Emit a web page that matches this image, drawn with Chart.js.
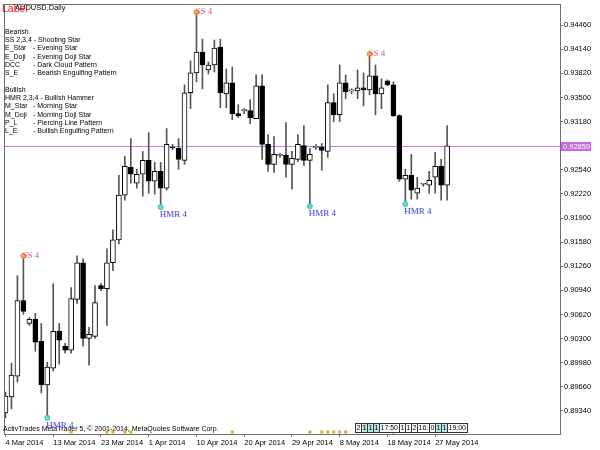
<!DOCTYPE html>
<html>
<head>
<meta charset="utf-8">
<style>
  html, body { margin: 0; padding: 0; background: #fff; }
  #chart { display: block; }
</style>
</head>
<body>
<canvas id="chart" width="600" height="450"></canvas>
<script src="https://cdn.jsdelivr.net/npm/chart.js@4.4.1/dist/chart.umd.min.js"></script>
<script>
"use strict";

// AUDUSD daily, 4 Mar 2014 - 29 May 2014 (broker has Sunday bars)
const dates = [
  "4 Mar 2014", "5 Mar 2014", "6 Mar 2014", "7 Mar 2014", "9 Mar 2014", "10 Mar 2014", "11 Mar 2014", "12 Mar 2014",
  "13 Mar 2014", "14 Mar 2014", "16 Mar 2014", "17 Mar 2014", "18 Mar 2014", "19 Mar 2014", "20 Mar 2014", "21 Mar 2014",
  "23 Mar 2014", "24 Mar 2014", "25 Mar 2014", "26 Mar 2014", "27 Mar 2014", "28 Mar 2014", "30 Mar 2014", "31 Mar 2014",
  "1 Apr 2014", "2 Apr 2014", "3 Apr 2014", "4 Apr 2014", "6 Apr 2014", "7 Apr 2014", "8 Apr 2014", "9 Apr 2014",
  "10 Apr 2014", "11 Apr 2014", "13 Apr 2014", "14 Apr 2014", "15 Apr 2014", "16 Apr 2014", "17 Apr 2014", "18 Apr 2014",
  "20 Apr 2014", "21 Apr 2014", "22 Apr 2014", "23 Apr 2014", "24 Apr 2014", "25 Apr 2014", "27 Apr 2014", "28 Apr 2014",
  "29 Apr 2014", "30 Apr 2014", "1 May 2014", "2 May 2014", "4 May 2014", "5 May 2014", "6 May 2014", "7 May 2014",
  "8 May 2014", "9 May 2014", "11 May 2014", "12 May 2014", "13 May 2014", "14 May 2014", "15 May 2014", "16 May 2014",
  "18 May 2014", "19 May 2014", "20 May 2014", "21 May 2014", "22 May 2014", "23 May 2014", "25 May 2014", "26 May 2014",
  "27 May 2014", "28 May 2014", "29 May 2014"
];

const opens = [
  0.89314, 0.89525, 0.89802, 0.90805, 0.90501, 0.90554, 0.90264, 0.89683, 0.89907, 0.90396,
  0.90198, 0.90145, 0.90818, 0.91306, 0.90303, 0.90330, 0.91003, 0.90963, 0.91306, 0.91610,
  0.92204, 0.92573, 0.92362, 0.92481, 0.92665, 0.92388, 0.92520, 0.92296, 0.92837, 0.92824,
  0.92665, 0.93563, 0.93827, 0.94104, 0.93866, 0.93932, 0.94170, 0.93549, 0.93695, 0.93286,
  0.93325, 0.93325, 0.93220, 0.93655, 0.92877, 0.92613, 0.92731, 0.92731, 0.92613, 0.92679,
  0.92863, 0.92665, 0.92837, 0.92837, 0.92784, 0.93431, 0.93272, 0.93695, 0.93589, 0.93589,
  0.93629, 0.93602, 0.93787, 0.93549, 0.93721, 0.93668, 0.93259, 0.92415, 0.92467, 0.92230,
  0.92349, 0.92335, 0.92441, 0.92586, 0.92335
];
const highs = [
  0.89591, 0.89973, 0.91135, 0.91399, 0.90580, 0.90633, 0.90501, 0.89987, 0.91029, 0.90501,
  0.90237, 0.90976, 0.91399, 0.91359, 0.90448, 0.91003, 0.91029, 0.91491, 0.91742, 0.92467,
  0.92718, 0.92956, 0.92547, 0.92784, 0.93035, 0.92639, 0.92639, 0.93088, 0.92877, 0.92956,
  0.93668, 0.93985, 0.94632, 0.94275, 0.93972, 0.94262, 0.94275, 0.93879, 0.93906, 0.93404,
  0.93352, 0.93470, 0.93800, 0.93800, 0.93008, 0.92982, 0.92758, 0.93167, 0.92784, 0.93008,
  0.93127, 0.92824, 0.92877, 0.92890, 0.93668, 0.93549, 0.93932, 0.93800, 0.93615, 0.93866,
  0.93827, 0.94077, 0.93932, 0.93747, 0.93734, 0.93708, 0.93272, 0.92547, 0.92745, 0.92441,
  0.92362, 0.92520, 0.92771, 0.92679, 0.93127
];
const lows = [
  0.89248, 0.89366, 0.89723, 0.90620, 0.90475, 0.90132, 0.89578, 0.89248, 0.89868, 0.89960,
  0.90105, 0.90105, 0.90765, 0.90198, 0.89947, 0.90303, 0.90937, 0.90475, 0.91201, 0.91557,
  0.92138, 0.92362, 0.92296, 0.92190, 0.92230, 0.92217, 0.92045, 0.92270, 0.92811, 0.92547,
  0.92613, 0.93352, 0.93708, 0.93615, 0.93813, 0.93840, 0.93365, 0.93365, 0.93206, 0.93233,
  0.93286, 0.93154, 0.93220, 0.92679, 0.92520, 0.92507, 0.92705, 0.92441, 0.92283, 0.92652,
  0.92599, 0.92058, 0.92811, 0.92533, 0.92705, 0.93180, 0.93180, 0.93484, 0.93549, 0.93484,
  0.93391, 0.93536, 0.93272, 0.93352, 0.93655, 0.93246, 0.92388, 0.92085, 0.92151, 0.92151,
  0.92322, 0.92230, 0.92230, 0.92138, 0.92138
];
const closes = [
  0.89538, 0.89815, 0.90805, 0.90660, 0.90554, 0.90251, 0.89683, 0.89921, 0.90396, 0.90277,
  0.90145, 0.90831, 0.91306, 0.90303, 0.90356, 0.90778, 0.90963, 0.91306, 0.91610, 0.92204,
  0.92586, 0.92481, 0.92481, 0.92665, 0.92388, 0.92520, 0.92296, 0.92877, 0.92830, 0.92679,
  0.93563, 0.93827, 0.94104, 0.93932, 0.93932, 0.94157, 0.93563, 0.93695, 0.93286, 0.93259,
  0.93325, 0.93233, 0.93655, 0.92877, 0.92613, 0.92745, 0.92731, 0.92613, 0.92692, 0.92877,
  0.92665, 0.92745, 0.92837, 0.92797, 0.93431, 0.93272, 0.93695, 0.93576, 0.93589, 0.93629,
  0.93602, 0.93787, 0.93549, 0.93629, 0.93668, 0.93259, 0.92415, 0.92467, 0.92270, 0.92296,
  0.92349, 0.92401, 0.92586, 0.92335, 0.92859
];

const priceTicks = [
  0.94460, 0.94140, 0.93820, 0.93500, 0.93180, 0.92540, 0.92220, 0.91900, 0.91580,
  0.91260, 0.90940, 0.90620, 0.90300, 0.89980, 0.89660, 0.89340
];
const dateTickIdx = [0, 8, 16, 24, 32, 40, 48, 56, 64, 72];
const lastPrice = 0.92859;

// pattern hits found by the indicator
const ssIdx = [3, 32, 61];
const hmrIdx = [7, 26, 51, 67];
// deal marks along the bottom edge
const dealIdx = [11, 17, 18, 20, 21, 38, 51, 53, 54, 55, 56, 57, 65];
const dealCells = ["2", "1", "1", "1", "17:50", "1", "1", "2", "16:", "0", "1", "1", "19:00"];
const dealCyan = [false, true, true, true, false, false, false, false, false, false, true, true, false];

const bearishNotes = [
  ["SS 2,3,4", "- Shooting Star"],
  ["E_Star", "- Evening Star"],
  ["E_Doji", "- Evening Doji Star"],
  ["DCC", "- Dark Cloud Pattern"],
  ["S_E", "- Bearish Engulfing Pattern"]
];
const bullishNotes = [
  ["HMR 2,3,4", "- Bullish Hammer"],
  ["M_Star", "- Morning Star"],
  ["M_Doji", "- Morning Doji Star"],
  ["P_L", "- Piercing Line Pattern"],
  ["L_E", "- Bullish Engulfing Pattern"]
];

const SANS = "Liberation Sans, Arial, sans-serif";
const SERIF = "Liberation Serif, Times New Roman, serif";

const bodies = dates.map((d, i) => ({ x: i, y: [opens[i], closes[i]] }));
const wicks = dates.map((d, i) => ({ x: i, y: [lows[i], highs[i]] }));
const bodyFill = closes.map((c, i) => (c >= opens[i] ? "#ffffff" : "#000000"));
const ssPoints = ssIdx.map((i) => ({ x: i, y: highs[i] }));
const hmrPoints = hmrIdx.map((i) => ({ x: i, y: lows[i] }));

const mtOverlay = {
  id: "mtOverlay",
  beforeDatasetsDraw(chart) {
    const { ctx, chartArea: a, scales } = chart;
    const py = Math.round(scales.y.getPixelForValue(lastPrice)) + 0.5;
    ctx.save();
    ctx.strokeStyle = "#c47fdc";
    ctx.lineWidth = 1;
    ctx.beginPath();
    ctx.moveTo(a.left, py);
    ctx.lineTo(a.right, py);
    ctx.stroke();
    ctx.restore();
  },
  afterDraw(chart) {
    const { ctx, chartArea: a, scales } = chart;
    const xs = scales.x, ys = scales.y;
    ctx.save();

    // frame
    ctx.strokeStyle = "#6e6e6e";
    ctx.lineWidth = 1;
    ctx.strokeRect(a.left - 0.5, a.top - 0.5, a.width + 1, a.height + 1);

    // last price box on the axis
    const py = Math.round(ys.getPixelForValue(lastPrice));
    ctx.fillStyle = "#c466dc";
    ctx.fillRect(a.right + 1, py - 4, 30, 9);
    ctx.fillStyle = "#ffffff";
    ctx.font = "7.5px " + SANS;
    ctx.textBaseline = "middle";
    ctx.textAlign = "left";
    ctx.fillText(lastPrice.toFixed(5), a.right + 3, py + 0.5);

    // header
    ctx.fillStyle = "#000000";
    ctx.font = "7.5px " + SANS;
    ctx.fillText("AUDUSD,Daily", 15, 8);
    ctx.fillStyle = "#e0141e";
    ctx.font = "10.5px " + SANS;
    ctx.fillText("Label", 2, 9);

    // pattern legend
    ctx.fillStyle = "#000000";
    ctx.font = "7px " + SANS;
    const rows = [["Bearish"]].concat(bearishNotes, [[""], ["Bullish"]], bullishNotes);
    rows.forEach((r, k) => {
      const y = 31.7 + 8.3 * k;
      if (r.length === 1) {
        ctx.fillText(r[0], 5, y);
      } else if (r[0].indexOf(",") >= 0) {
        ctx.fillText(r[0] + " " + r[1], 5, y);
      } else {
        ctx.fillText(r[0], 5, y);
        ctx.fillText(r[1], 33, y);
      }
    });

    // footer
    ctx.fillText("ActivTrades MetaTrader 5, \u00a9 2001-2014, MetaQuotes Software Corp.", 3, 429);

    // pattern labels
    ctx.font = "9px " + SERIF;
    ctx.textBaseline = "alphabetic";
    ctx.fillStyle = "#f0488c";
    ssIdx.forEach((i) => {
      ctx.fillText("SS 4", xs.getPixelForValue(i) - 1, ys.getPixelForValue(highs[i]) + 2);
    });
    ctx.fillStyle = "#3a3ae6";
    hmrIdx.forEach((i) => {
      ctx.fillText("HMR 4", xs.getPixelForValue(i) - 1, ys.getPixelForValue(lows[i]) + 10);
    });

    // deal marks
    ctx.fillStyle = "#f2a52e";
    dealIdx.forEach((i) => {
      ctx.beginPath();
      ctx.arc(xs.getPixelForValue(i), a.bottom - 2, 1.8, 0, Math.PI * 2);
      ctx.fill();
    });

    // trade history boxes
    ctx.font = "7px " + SANS;
    ctx.textBaseline = "middle";
    let bx = 355.5;
    const by = 423.5;
    dealCells.forEach((t, k) => {
      const w = Math.round(ctx.measureText(t).width + 2);
      ctx.fillStyle = dealCyan[k] ? "#b9e6e6" : "#ffffff";
      ctx.fillRect(bx, by, w, 9);
      ctx.strokeStyle = "#333333";
      ctx.strokeRect(bx, by, w, 9);
      ctx.fillStyle = "#000000";
      ctx.fillText(t, bx + 1, by + 5);
      bx += w;
    });

    ctx.restore();
  }
};

const config = {
  type: "bar",
  data: {
    datasets: [
      {
        type: "scatter",
        data: ssPoints,
        pointRadius: 2.5,
        backgroundColor: "#f7b73c",
        borderColor: "#e8961e",
        borderWidth: 1,
        order: 0
      },
      {
        type: "scatter",
        data: hmrPoints,
        pointRadius: 2.5,
        backgroundColor: "#6cd8d8",
        borderColor: "#3bb8c0",
        borderWidth: 1,
        order: 0
      },
      {
        data: bodies,
        backgroundColor: bodyFill,
        borderColor: "#000000",
        borderWidth: 1,
        borderSkipped: false,
        barThickness: 5,
        minBarLength: 1,
        grouped: false,
        clip: 0,
        order: 1
      },
      {
        data: wicks,
        backgroundColor: "#555555",
        borderWidth: 0,
        barThickness: 1,
        grouped: false,
        clip: 0,
        order: 2
      }
    ]
  },
  options: {
    responsive: false,
    animation: false,
    events: [],
    layout: { padding: { left: 2, top: 3, right: 0, bottom: 0 } },
    plugins: { legend: { display: false }, tooltip: { enabled: false } },
    scales: {
      x: {
        type: "linear",
        offset: false,
        min: -1 / 12,
        max: 93 - 1 / 12,
        border: { display: false },
        grid: { offset: false, drawOnChartArea: false, drawTicks: true, tickLength: 3, color: "#707070" },
        ticks: {
          autoSkip: false,
          maxRotation: 0,
          align: "start",
          padding: 1,
          color: "#000000",
          font: { family: SANS, size: 7.5 },
          callback: (v) => dates[v]
        },
        afterBuildTicks: (axis) => {
          axis.ticks = dateTickIdx.map((v) => ({ value: v }));
        },
        afterFit: (axis) => {
          axis.height = 16;
          axis.paddingLeft = 0;
          axis.paddingRight = 0;
        }
      },
      y: {
        type: "linear",
        position: "right",
        min: 0.89033,
        max: 0.94728,
        border: { display: false },
        grid: { drawOnChartArea: false, drawTicks: true, tickLength: 3, color: "#707070" },
        ticks: {
          padding: 1,
          color: "#000000",
          font: { family: SANS, size: 7.5 },
          callback: (v) => v.toFixed(5)
        },
        afterBuildTicks: (axis) => {
          axis.ticks = priceTicks.map((v) => ({ value: v }));
        },
        afterFit: (axis) => {
          axis.width = 40;
          axis.paddingTop = 0;
          axis.paddingBottom = 0;
        }
      }
    }
  },
  plugins: [mtOverlay]
};

const myChart = new Chart(document.querySelector("#chart"), config);
</script>
</body>
</html>
